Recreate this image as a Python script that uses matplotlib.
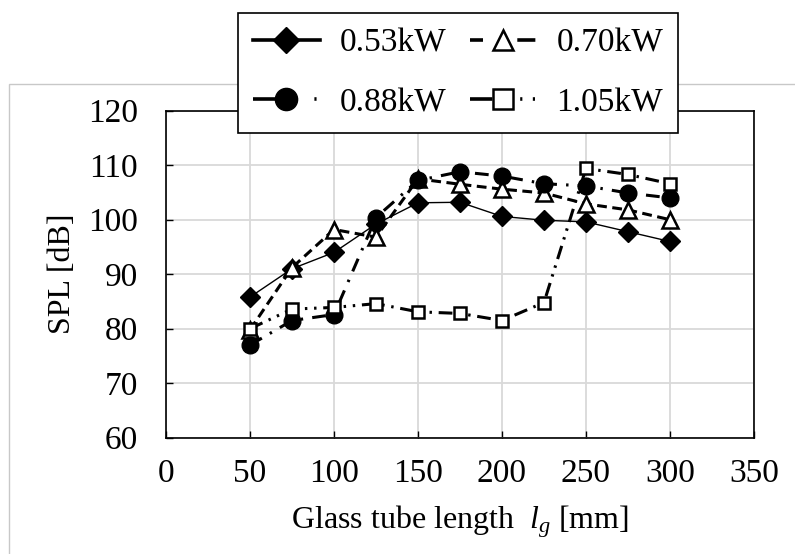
import matplotlib
matplotlib.use("Agg")
import matplotlib.pyplot as plt
from matplotlib.patches import Rectangle
from matplotlib.lines import Line2D

plt.rcParams['font.family'] = ['Liberation Serif', 'DejaVu Serif']
plt.rcParams['mathtext.fontset'] = 'custom'
plt.rcParams['mathtext.rm'] = 'Liberation Serif'
plt.rcParams['mathtext.it'] = 'Liberation Serif:italic'

# ガラス管長さ (mm) と各入力電力での音圧レベル (dB)
length = [50, 75, 100, 125, 150, 175, 200, 225, 250, 275, 300]
spl_053 = [85.8, 91.0, 94.0, 99.2, 103.1, 103.2, 100.6, 99.9, 99.6, 97.8, 96.0]
spl_070 = [79.8, 91.2, 98.2, 96.8, 107.5, 106.5, 105.6, 104.9, 102.9, 101.8, 100.0]
spl_088 = [77.0, 81.5, 82.6, 100.4, 107.2, 108.8, 108.0, 106.6, 106.2, 104.9, 104.0]
spl_105 = [80.0, 83.6, 83.9, 84.6, 83.1, 82.8, 81.5, 84.8, 109.4, 108.3, 106.6]
labels = ['0.53kW', '0.70kW', '0.88kW', '1.05kW']

fig = plt.figure(figsize=(7.95, 5.54), dpi=100)
ax = fig.add_axes([0.2088, 0.2099, 0.7396, 0.5903])

# 外枠（薄いグレー）
fig.patches.append(Rectangle((9 / 795, -0.2), 1.2, 1.2 - 84 / 554,
                             transform=fig.transFigure, fill=False,
                             edgecolor='#c8c8c8', linewidth=1.0, zorder=0))

fs = 24
styles = [
    dict(linewidth=1.0, linestyle='-', marker='D', markersize=10,
         markerfacecolor='black'),
    dict(linewidth=2.2, linestyle=(0, (3.2, 1.8)), marker='^', markersize=12,
         markerfacecolor='white', markeredgewidth=1.8),
    dict(linewidth=2.2, linestyle=(0, (4.5, 3.0, 0.8, 3.0)), marker='o',
         markersize=12, markerfacecolor='black'),
    dict(linewidth=2.2, linestyle=(0, (4.5, 2.2, 0.8, 2.2, 0.8, 2.2)),
         marker='s', markersize=9, markerfacecolor='white', markeredgewidth=1.8),
]
series = [spl_053, spl_070, spl_088, spl_105]

for i, (y, st) in enumerate(zip(series, styles)):
    ax.plot(length, y, color='black', markeredgecolor='black',
            zorder=3 + i, **st)

ax.set_xlim(0, 350)
ax.set_ylim(60, 120)
ax.set_xticks(range(0, 351, 50))
ax.set_yticks(range(60, 121, 10))
ax.grid(True, color='#d9d9d9', linewidth=1.3, zorder=0)
ax.set_axisbelow(True)
ax.tick_params(direction='in', length=5, width=1.0, labelsize=fs)
ax.tick_params(axis='y', pad=20)
ax.tick_params(axis='x', pad=15)
for s in ax.spines.values():
    s.set_linewidth(1.2)
    s.set_color('black')

ax.set_xlabel('Glass tube length  $l_g$ [mm]', fontsize=23, labelpad=10)
ax.set_ylabel('SPL [dB]', fontsize=23, labelpad=8)

# 凡例：線と記号を大きめにして2列に並べる（行方向に 0.53, 0.70 / 0.88, 1.05）
legend_ms = [13.5, 15, 16, 14]
legend_ls = ['-',
             (0, (3.6, 9.5, 5.0, 10)),
             (0, (6.2, 10.8, 0.6, 10)),
             (0, (6.2, 7.7, 0.6, 2.9, 0.6, 10))]
handles = []
for st, ms, ls in zip(styles, legend_ms, legend_ls):
    h = dict(st)
    h['linewidth'] = 2.6
    h['markersize'] = ms
    h['linestyle'] = ls
    handles.append(Line2D([], [], color='black', markeredgecolor='black', **h))
order = [0, 2, 1, 3]
leg = fig.legend([handles[k] for k in order], [labels[k] for k in order],
                 loc='upper left', bbox_to_anchor=(238 / 795, 1 - 12.7 / 554),
                 borderaxespad=0, ncol=2, fontsize=fs, fancybox=False,
                 framealpha=1, edgecolor='black', handlelength=2.0,
                 handletextpad=0.6, columnspacing=0.7, labelspacing=0.88,
                 borderpad=0.45, numpoints=1)
leg.get_frame().set_linewidth(1.2)
leg.set_zorder(10)

fig.savefig('out.png', dpi=100)
